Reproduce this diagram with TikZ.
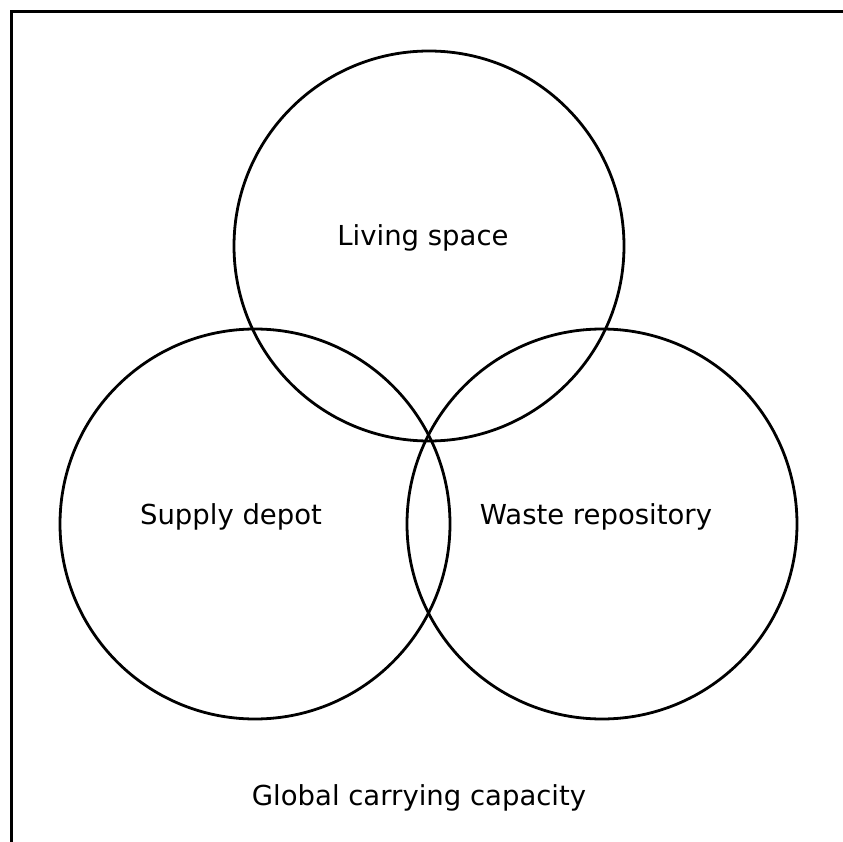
\documentclass[tikz,border=0pt]{standalone}
\usepackage{fontspec}
\setmainfont{DejaVu Sans}
\begin{document}
\begin{tikzpicture}[x=1pt,y=-1pt,
  ring/.style={circle, draw=black, line width=2.8pt, minimum size=390pt, inner sep=0pt},
  lbl/.style={font=\fontsize{27.5}{32}\selectfont, inner sep=0pt, text=black}]
\useasboundingbox (0,0) rectangle (843,842);
\fill[white] (0,0) rectangle (843,842);
\coordinate (fb) at (11.5,842);
\coordinate (fc) at (11.5,11.5);
\coordinate (fr) at (843,11.5);
\draw[line width=3pt] (fb) -- (fc) -- (fr);
\node[ring] (living) at (429,246) {};
\node[ring] (supply) at (255,524) {};
\node[ring] (waste) at (602,524) {};
\node[lbl] (tliving) at (423,238) {Living space};
\node[lbl] (tsupply) at (231,517) {Supply depot};
\node[lbl] (twaste) at (596,517) {Waste repository};
\node[lbl] (tglobal) at (419,798) {Global carrying capacity};
\end{tikzpicture}
\end{document}
